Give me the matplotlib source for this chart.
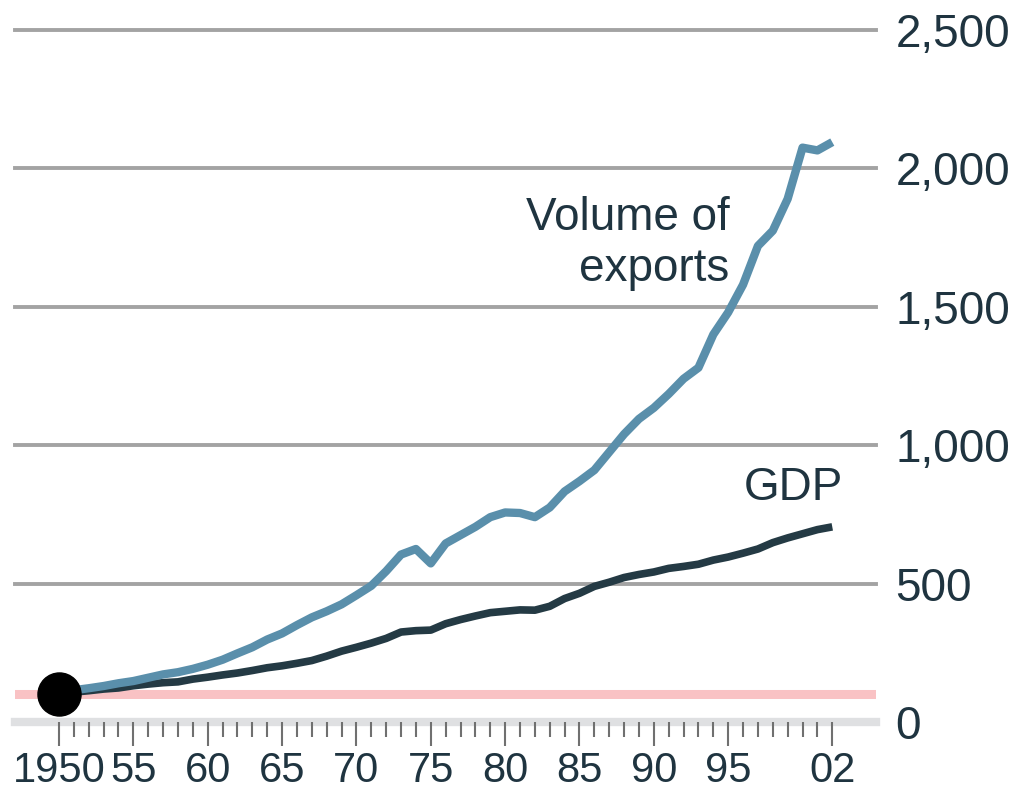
import matplotlib
matplotlib.use('Agg')
import matplotlib.pyplot as plt

plt.rcParams['font.family'] = ['Liberation Sans', 'DejaVu Sans']

# index, 1950 = 100
years = list(range(1950, 2003))
exports = [100, 115, 122, 130, 140, 148, 160, 172, 180, 192,
           207, 225, 248, 270, 298, 320, 350, 378, 400, 425,
           458, 492, 545, 605, 625, 573, 645, 675, 705, 740,
           757, 755, 740, 775, 833, 870, 910, 975, 1040, 1095,
           1135, 1185, 1240, 1280, 1400, 1480, 1580, 1720, 1775, 1890,
           2075, 2065, 2095]
gdp = [100, 108, 113, 119, 123, 131, 137, 142, 145, 155,
       162, 170, 177, 186, 196, 203, 212, 222, 238, 256,
       270, 285, 302, 325, 330, 332, 355, 370, 383, 395,
       400, 405, 404, 418, 446, 465, 490, 505, 522, 533,
       542, 555, 562, 570, 585, 596, 610, 625, 648, 665,
       680, 695, 705]

base_value = 100
ytick_values = [0, 500, 1000, 1500, 2000, 2500]
ytick_labels = ['0', '500', '1,000', '1,500', '2,000', '2,500']
xtick_years = [1950, 1955, 1960, 1965, 1970, 1975, 1980, 1985, 1990, 1995, 2002]
xtick_labels = ['1950', '55', '60', '65', '70', '75', '80', '85', '90', '95', '02']

text_col = '#1f3440'
exp_col = '#5a8fab'
gdp_col = '#243a44'

fig = plt.figure(figsize=(10.15, 8.01), dpi=100)
ax = fig.add_axes([15/1015, 79/801, 861/1015, 692/801])
ax.set_xlim(1947.04, 2004.94)
ax.set_ylim(0, 2500)

for v in ytick_values[1:]:
    ax.axhline(v, color='#a3a3a3', lw=2.8, clip_on=False, zorder=1)
ax.axhline(0, color='#dfe0e2', lw=6, clip_on=False, zorder=1)
ax.axhline(base_value, color='#f9c2c4', lw=6.5, zorder=2)

ax.plot(years, gdp, color=gdp_col, lw=5.5, solid_capstyle='butt', zorder=3)
ax.plot(years, exports, color=exp_col, lw=6, solid_capstyle='butt', zorder=4)
ax.plot([years[0]], [base_value], 'o', color='black', ms=31, zorder=5)

ax.text(1995.1, 1730, 'Volume of\nexports', ha='right', va='center',
        fontsize=33, color=text_col, linespacing=1.2)
ax.text(1999.4, 845, 'GDP', ha='center', va='center', fontsize=33, color=text_col)

for s in ax.spines.values():
    s.set_visible(False)

ax.set_xticks(xtick_years)
ax.set_xticklabels(xtick_labels)
ax.set_xticks(years, minor=True)
ax.tick_params(axis='x', which='major', length=17, width=1.5, color='#707070',
               pad=4, labelsize=30, labelcolor=text_col)
ax.tick_params(axis='x', which='minor', length=11, width=1.5, color='#707070')

ax.yaxis.tick_right()
ax.set_yticks(ytick_values)
ax.set_yticklabels(ytick_labels)
ax.tick_params(axis='y', length=0, pad=14, labelsize=33, labelcolor=text_col)

fig.savefig('out.png', dpi=100)
